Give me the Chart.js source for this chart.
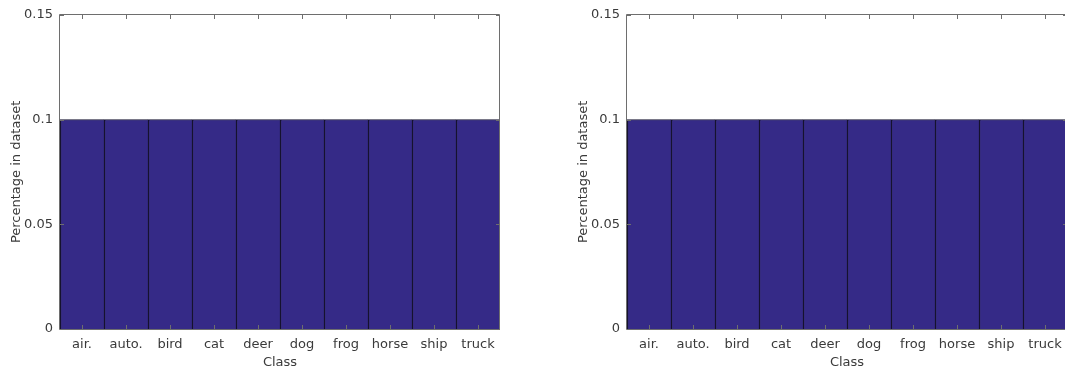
<!DOCTYPE html>
<html>
<head>
<meta charset="utf-8">
<script src="https://cdn.jsdelivr.net/npm/chart.js@4/dist/chart.umd.min.js"></script>
<style>
  html, body { margin: 0; padding: 0; background: #fff; overflow: hidden; width: 1065px; height: 370px; }
  .panel { position: absolute; top: 0; width: 530px; height: 370px; }
  #p1 { left: 0; }
  #p2 { left: 567px; }
</style>
</head>
<body>
<div class="panel" id="p1"><canvas id="c1"></canvas></div>
<div class="panel" id="p2"><canvas id="c2"></canvas></div>
<script>
// CIFAR-10 class names (abbreviated) and share of each class
const classes = ['air.', 'auto.', 'bird', 'cat', 'deer', 'dog', 'frog', 'horse', 'ship', 'truck'];
const trainShare = [0.1, 0.1, 0.1, 0.1, 0.1, 0.1, 0.1, 0.1, 0.1, 0.1];
const testShare  = [0.1, 0.1, 0.1, 0.1, 0.1, 0.1, 0.1, 0.1, 0.1, 0.1];
const yTicks = [0, 0.05, 0.1, 0.15];
const yTickLabels = ['0', '0.05', '0.1', '0.15'];

const textColor = '#3a3a3a';
const axisColor = '#6e6e6e';
const fontFace = "'DejaVu Sans', sans-serif";

// Box around the axes with short inward tick marks (top/bottom and left/right)
const boxPlugin = {
  id: 'box',
  afterDraw(chart) {
    const { ctx, chartArea: a, scales } = chart;
    const left = Math.round(a.left), right = Math.round(a.right);
    const top = Math.round(a.top), bottom = Math.round(a.bottom);
    ctx.save();
    ctx.strokeStyle = axisColor;
    ctx.lineWidth = 1;
    ctx.beginPath();
    ctx.rect(left - 0.5, top - 0.5, right - left, bottom - top + 1);
    ctx.stroke();
    const len = 4;
    ctx.beginPath();
    scales.x.ticks.forEach((t, i) => {
      const x = Math.round(scales.x.getPixelForTick(i)) + 0.5;
      ctx.moveTo(x, top); ctx.lineTo(x, top + len);
      ctx.moveTo(x, bottom); ctx.lineTo(x, bottom - len);
    });
    scales.y.ticks.forEach((t, i) => {
      const y = Math.round(scales.y.getPixelForTick(i)) + 0.5;
      ctx.moveTo(left, y); ctx.lineTo(left + len, y);
      ctx.moveTo(right, y); ctx.lineTo(right - len, y);
    });
    ctx.stroke();
    ctx.restore();
  }
};

function makeChart(id, values) {
  return new Chart(document.getElementById(id), {
    type: 'bar',
    data: {
      labels: classes,
      datasets: [{
        data: values,
        backgroundColor: '#352a87',
        borderColor: '#15122e',
        borderWidth: { left: 1.5, top: 1, right: 0, bottom: 0 },
        borderSkipped: false,
        barPercentage: 1.0,
        categoryPercentage: 1.0
      }]
    },
    options: {
      responsive: true,
      maintainAspectRatio: false,
      animation: false,
      layout: { padding: { top: 14, right: 30, left: 0, bottom: 0 } },
      plugins: { legend: { display: false }, tooltip: { enabled: false } },
      scales: {
        x: {
          grid: { display: false, drawTicks: false },
          border: { display: false },
          ticks: { color: textColor, font: { family: fontFace, size: 13 }, padding: 8, maxRotation: 0, autoSkip: false },
          title: { display: true, text: 'Class', color: textColor, font: { family: fontFace, size: 13 }, padding: { top: 0, bottom: 0 } },
          afterFit(s) { s.height = 41; }
        },
        y: {
          min: 0,
          max: 0.15,
          afterBuildTicks(s) { s.ticks = yTicks.map(v => ({ value: v })); },
          grid: { display: false, drawTicks: false },
          border: { display: false },
          ticks: {
            color: textColor, font: { family: fontFace, size: 13 }, padding: 7,
            callback(v) { const i = yTicks.indexOf(v); return i >= 0 ? yTickLabels[i] : ''; }
          },
          title: { display: true, text: 'Percentage in dataset', color: textColor, font: { family: fontFace, size: 13 }, padding: { top: 9, bottom: 0 } },
          afterFit(s) { s.width = 60; }
        }
      }
    },
    plugins: [boxPlugin]
  });
}

makeChart('c1', trainShare);
makeChart('c2', testShare);
</script>
</body>
</html>
